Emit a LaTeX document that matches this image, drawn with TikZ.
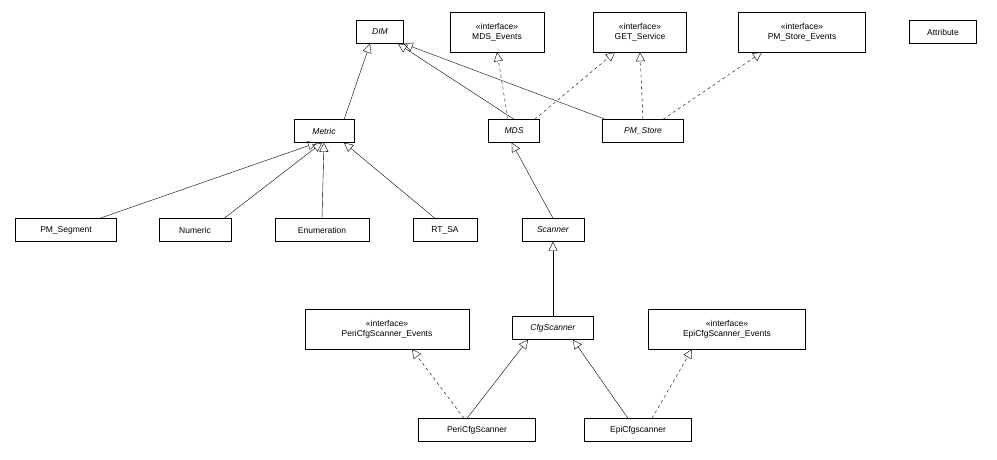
\documentclass[tikz,border=0pt]{standalone}
\usepackage{fontspec}
\setmainfont{Liberation Sans}
\usetikzlibrary{arrows.meta}

\begin{document}
\begin{tikzpicture}[x=1pt,y=-1pt,font=\fontsize{8.5}{10}\selectfont,
	cls/.style={shape=rectangle,draw=black,fill=white,inner xsep=5pt,inner ysep=0pt,minimum height=23pt,align=center},
	ifc/.style={cls,minimum height=40pt},
	inh/.style={-{Triangle[open,length=9pt,width=9pt]}},
	real/.style={inh,dashed}]
	
	\useasboundingbox (0,0) rectangle (997,459);
	
	\node[cls,minimum width=47pt] (dim) at (380, 32) {\textit{DIM}};
	\node[ifc,minimum width=94pt] (mdsev) at (497, 32) {«interface»\\MDS\_Events};
	\node[ifc,minimum width=93pt] (get) at (640, 32) {«interface»\\GET\_Service};
	\node[ifc,minimum width=127pt] (pmsev) at (802, 32) {«interface»\\PM\_Store\_Events};
	\node[cls,minimum width=67pt] (attr) at (943, 32) {Attribute};
	
	\node[cls,minimum width=60pt] (metric) at (324, 131) {\textit{Metric}};
	\node[cls,minimum width=51pt] (mds) at (514, 131) {\textit{MDS}};
	\node[cls,minimum width=81pt] (pmstore) at (643, 131) {\textit{PM\_Store}};
	
	\node[cls,minimum width=101pt] (seg) at (66, 230) {PM\_Segment};
	\node[cls,minimum width=72pt] (num) at (195, 230) {Numeric};
	\node[cls,minimum width=94pt] (enum) at (322, 230) {Enumeration};
	\node[cls,minimum width=64pt] (rtsa) at (445, 230) {RT\_SA};
	\node[cls,minimum width=62pt] (scan) at (553, 230) {\textit{Scanner}};
	
	\node[ifc,minimum width=164pt] (periev) at (387, 329) {«interface»\\PeriCfgScanner\_Events};
	\node[cls,minimum width=81pt] (cfg) at (553, 328) {\textit{CfgScanner}};
	\node[ifc,minimum width=157pt] (epiev) at (727, 329) {«interface»\\EpiCfgScanner\_Events};
	
	\node[cls,minimum width=117pt] (peri) at (477, 430) {PeriCfgScanner};
	\node[cls,minimum width=107pt] (epi) at (638, 430) {EpiCfgscanner};
	
	\draw[inh] (metric.north east) ++(-10,0) -- ([xshift=-10pt]dim.south);
	\draw[inh] (mds.north) -- ([xshift=18pt]dim.south);
	\draw[inh] ([xshift=3pt]pmstore.north west) -- (dim.south east);
	\draw[real] ([xshift=-6pt]mds.north) -- (mdsev.south);
	\draw[real] ([xshift=-5pt]mds.north east) -- ([xshift=-25pt]get.south);
	\draw[real] (pmstore.north) -- (get.south);
	\draw[real] ([xshift=20pt]pmstore.north) -- ([xshift=-40pt]pmsev.south);
	
	\draw[inh] ([xshift=-17pt]seg.north east) -- ([xshift=-7pt]metric.south);
	\draw[inh] (num.north east) ++(-7,0) -- ([xshift=-2pt]metric.south);
	\draw[inh] (enum.north) -- (metric.south);
	\draw[inh] ([xshift=-10pt]rtsa.north) -- ([xshift=20pt]metric.south);
	\draw[inh] (scan.north) -- ([xshift=-28pt]mds.south east);
	
	\draw[inh] (cfg.north) -- (scan.south);
	\draw[inh] ([xshift=-10pt]peri.north) -- ([xshift=-25pt]cfg.south);
	\draw[inh] ([xshift=-10pt]epi.north) -- ([xshift=20pt]cfg.south);
	\draw[real] ([xshift=-13pt]peri.north) -- ([xshift=25pt]periev.south);
	\draw[real] ([xshift=14pt]epi.north) -- ([xshift=-35pt]epiev.south);
	
\end{tikzpicture}
\end{document}
